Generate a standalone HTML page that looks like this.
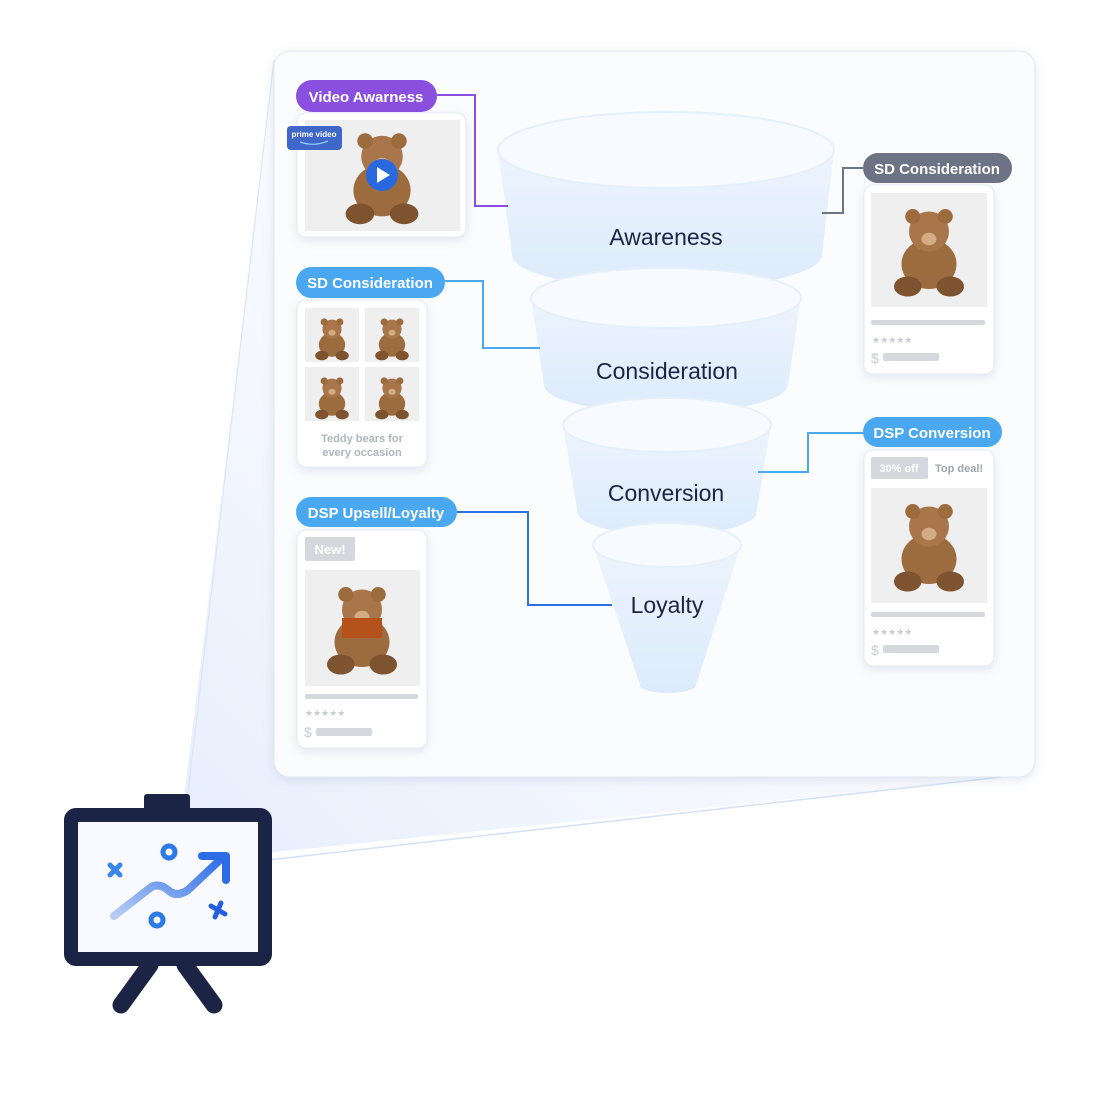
<!DOCTYPE html>
<html><head><meta charset="utf-8"><style>
body{margin:0;background:#fff;}
svg{display:block;font-family:"Liberation Sans",sans-serif;}
</style></head><body>
<svg width="1096" height="1110" viewBox="0 0 1096 1110">
<defs>
<linearGradient id="beam" x1="0" y1="1" x2="1" y2="0"><stop offset="0" stop-color="#dfe8fb" stop-opacity=".8"/><stop offset=".5" stop-color="#eef3fd" stop-opacity=".4"/><stop offset="1" stop-color="#f6f8fe" stop-opacity=".2"/></linearGradient>
<linearGradient id="fun" x1="0" y1="0" x2="0" y2="1"><stop offset="0" stop-color="#edf4fd"/><stop offset="1" stop-color="#dcebfc"/></linearGradient>
<linearGradient id="arr" x1="0" y1="1" x2="1" y2="0"><stop offset="0" stop-color="#b9cdf3"/><stop offset="1" stop-color="#2c6de6"/></linearGradient>
<filter id="sh" x="-20%" y="-20%" width="140%" height="140%"><feDropShadow dx="0" dy="3" stdDeviation="5" flood-color="#8fa3c8" flood-opacity=".25"/></filter>
<g id="bear">
<ellipse cx="0" cy="8" rx="22" ry="20" fill="#9c6b3e"/>
<circle cx="0" cy="-18" r="16" fill="#a8764a"/>
<circle cx="-13" cy="-30" r="6" fill="#9c6b3e"/><circle cx="13" cy="-30" r="6" fill="#9c6b3e"/>
<ellipse cx="0" cy="-12" rx="6" ry="5" fill="#d2ad84"/>
<ellipse cx="-17" cy="26" rx="11" ry="8" fill="#7e5330"/><ellipse cx="17" cy="26" rx="11" ry="8" fill="#7e5330"/>
</g>
</defs>
<polygon points="176,862 276,55 290,775 1000,778" fill="url(#beam)"/>
<line x1="180" y1="860" x2="274" y2="60" stroke="#dbe5f8" stroke-width="1.2"/>
<line x1="180" y1="870" x2="1010" y2="776" stroke="#d3e0f8" stroke-width="1.5"/>
<rect x="274" y="51" width="761" height="726" rx="16" fill="#fbfcfe" stroke="#e2e8f2" filter="url(#sh)"/>
<!-- funnel -->
<path d="M498 150 L512 255 A145 32 0 0 0 822 255 L834 150 Z" fill="url(#fun)"/>
<ellipse cx="666" cy="150" rx="168" ry="38" fill="#f7fafe" stroke="#e6f0fb" stroke-width="2"/>
<path d="M531 298 L544 385 A122 28 0 0 0 788 385 L801 298 Z" fill="url(#fun)"/>
<ellipse cx="666" cy="298" rx="135" ry="30" fill="#f7fafe" stroke="#e6f0fb" stroke-width="2"/>
<path d="M563 425 L578 515 A90 24 0 0 0 756 515 L771 425 Z" fill="url(#fun)"/>
<ellipse cx="667" cy="425" rx="104" ry="27" fill="#f7fafe" stroke="#e6f0fb" stroke-width="2"/>
<path d="M593 545 L640 685 A28 8 0 0 0 696 685 L741 545 Z" fill="url(#fun)"/>
<ellipse cx="667" cy="545" rx="74" ry="22" fill="#f7fafe" stroke="#e6f0fb" stroke-width="2"/>
<g font-size="23" fill="#1b2444" text-anchor="middle">
<text x="666" y="245">Awareness</text><text x="667" y="379">Consideration</text><text x="666" y="501">Conversion</text><text x="667" y="613">Loyalty</text></g>
<!-- connectors -->
<path d="M437 95 H475 V206 H508" fill="none" stroke="#8b4fe0" stroke-width="2"/>
<path d="M445 281 H483 V348 H540" fill="none" stroke="#4aa8f0" stroke-width="2"/>
<path d="M457 512 H528 V605 H612" fill="none" stroke="#2f6fe0" stroke-width="2"/>
<path d="M822 213 H843 V168 H863" fill="none" stroke="#6b7385" stroke-width="2"/>
<path d="M758 472 H808 V433 H863" fill="none" stroke="#4aa8f0" stroke-width="2"/>
<!-- cards -->
<g filter="url(#sh)" fill="#fff" stroke="#e6eaf0">
<rect x="297" y="113" width="169" height="124" rx="9"/>
<rect x="297" y="300" width="130" height="167" rx="9"/>
<rect x="297" y="530" width="130" height="218" rx="9"/>
<rect x="864" y="185" width="130" height="189" rx="9"/>
<rect x="864" y="450" width="130" height="216" rx="9"/>
</g>
<g fill="#efefef">
<rect x="305" y="120" width="155" height="111"/>
<rect x="305" y="308" width="54" height="54"/><rect x="365" y="308" width="54" height="54"/>
<rect x="305" y="367" width="54" height="54"/><rect x="365" y="367" width="54" height="54"/>
<rect x="305" y="570" width="115" height="116"/>
<rect x="871" y="193" width="116" height="114"/>
<rect x="871" y="488" width="116" height="115"/>
</g>
<use href="#bear" transform="translate(382,180) scale(1.3)"/>
<use href="#bear" transform="translate(332,340) scale(.6)"/>
<use href="#bear" transform="translate(392,340) scale(.6)"/>
<use href="#bear" transform="translate(332,399) scale(.6)"/>
<use href="#bear" transform="translate(392,399) scale(.6)"/>
<use href="#bear" transform="translate(362,632) scale(1.25)"/>
<rect x="342" y="618" width="40" height="20" fill="#b5521c"/>
<use href="#bear" transform="translate(929,254) scale(1.25)"/>
<use href="#bear" transform="translate(929,549) scale(1.25)"/>
<circle cx="382" cy="175" r="16" fill="#2a68e0"/><path d="M377 167 L390 175 L377 183 Z" fill="#fff"/>
<rect x="287" y="126" width="55" height="24" rx="4" fill="#3f66c9"/>
<text x="314" y="137" font-size="8" fill="#fff" text-anchor="middle" font-weight="bold">prime video</text>
<path d="M300 142 Q314 147 328 141" stroke="#8ecdf5" fill="none" stroke-width="1.3"/>
<text x="362" y="442" font-size="11" fill="#b0b4bc" text-anchor="middle" font-weight="bold">Teddy bears for</text>
<text x="362" y="456" font-size="11" fill="#b0b4bc" text-anchor="middle" font-weight="bold">every occasion</text>
<rect x="305" y="537" width="50" height="24" rx="2" fill="#d5d7dc"/><text x="330" y="554" font-size="13" fill="#fff" text-anchor="middle" font-weight="bold">New!</text>
<rect x="871" y="457" width="57" height="22" rx="2" fill="#d5d7dc"/><text x="899" y="472" font-size="11" fill="#fff" text-anchor="middle" font-weight="bold">30% off</text>
<text x="935" y="472" font-size="11" fill="#a0a4ac" font-weight="bold">Top deal!</text>
<g fill="#d5d8dd">
<rect x="305" y="694" width="113" height="5" rx="2"/><rect x="316" y="728" width="56" height="8" rx="2"/>
<rect x="871" y="320" width="114" height="5" rx="2"/><rect x="883" y="353" width="56" height="8" rx="2"/>
<rect x="871" y="612" width="114" height="5" rx="2"/><rect x="883" y="645" width="56" height="8" rx="2"/>
</g>
<g font-size="9" fill="#c8cbd0"><text x="305" y="716">★★★★★</text><text x="872" y="343">★★★★★</text><text x="872" y="635">★★★★★</text></g>
<g font-size="14" fill="#c8cbd0"><text x="304" y="737">$</text><text x="871" y="363">$</text><text x="871" y="655">$</text></g>
<!-- pills -->
<g font-size="15" font-weight="bold" fill="#fff" text-anchor="middle">
<rect x="296" y="80" width="141" height="32" rx="16" fill="#8b4fe0"/><text x="366" y="102">Video Awarness</text>
<rect x="296" y="267" width="149" height="31" rx="15.5" fill="#4aa8f0"/><text x="370" y="288">SD Consideration</text>
<rect x="296" y="497" width="161" height="30" rx="15" fill="#4aa8f0"/><text x="376" y="518">DSP Upsell/Loyalty</text>
<rect x="863" y="153" width="149" height="30" rx="15" fill="#6b7385"/><text x="937" y="174">SD Consideration</text>
<rect x="863" y="417" width="139" height="30" rx="15" fill="#4aa8f0"/><text x="932" y="438">DSP Conversion</text>
</g>
<!-- projector -->
<rect x="144" y="794" width="46" height="18" rx="3" fill="#1b2444"/>
<rect x="71" y="815" width="194" height="144" rx="5" fill="#f8faff" stroke="#1b2444" stroke-width="14"/>
<line x1="150" y1="965" x2="121" y2="1005" stroke="#1b2444" stroke-width="17" stroke-linecap="round"/>
<line x1="185" y1="965" x2="214" y2="1005" stroke="#1b2444" stroke-width="17" stroke-linecap="round"/>
<path d="M114 916 L150 888 Q158 882 168 890 Q176 898 188 890 L222 858" stroke="url(#arr)" stroke-width="8" fill="none" stroke-linecap="round"/>
<path d="M202 856 H226 V880" stroke="#2c6de6" stroke-width="8" fill="none" stroke-linecap="round" stroke-linejoin="round"/>
<circle cx="169" cy="852" r="6" fill="none" stroke="#2c7ae6" stroke-width="5"/>
<circle cx="157" cy="920" r="6" fill="none" stroke="#2c7ae6" stroke-width="5"/>
<path d="M110 865 l10 10 M120 865 l-10 10" stroke="#3a86ea" stroke-width="5" stroke-linecap="round"/>
<path d="M211 906 l14 8 M221 903 l-6 14" stroke="#2560dc" stroke-width="5" stroke-linecap="round"/>
</svg>
</body></html>
